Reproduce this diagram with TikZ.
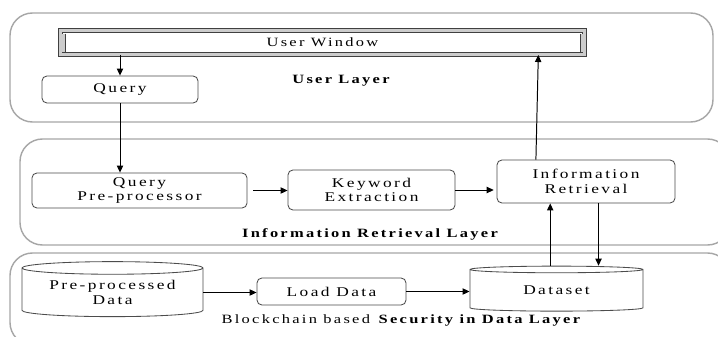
\documentclass[tikz,border=0pt]{standalone}
\usepackage{fontspec}
\setmainfont{Liberation Serif}[FakeStretch=1.3, LetterSpace=18]
\usetikzlibrary{shapes.geometric, arrows.meta, calc}
\tikzset{
  layer/.style={draw=gray!70, line width=1pt, rounded corners=16pt},
  procbox/.style={draw=black!70, line width=0.6pt, rounded corners=3.5pt,
    align=center, inner sep=0pt, font=\fontsize{9.5}{10.5}\selectfont},
  store/.style={cylinder, shape border rotate=90, aspect=0.1,
    draw=black!70, line width=0.6pt, align=center, inner sep=0pt,
    font=\fontsize{9.5}{10.5}\selectfont},
  flow/.style={-{Triangle[length=5pt, width=4.5pt]}, line width=0.7pt},
  layername/.style={font=\fontsize{9}{10}\selectfont\bfseries}
}

\begin{document}
\begin{tikzpicture}[x=0.025cm, y=-0.025cm]
  \clip (0,0) rectangle (718,336);
  \fill[white] (0,0) rectangle (718,336);

  % ── Layers ───────────────────────────────────────────────────────
  \draw[layer] (10,13)  rectangle (713,122);
  \draw[layer] (20,139) rectangle (730,245);
  \draw[layer] (10,253) rectangle (730,345);

  \node[layername] (userlbl) at (341,81) {User Layer};
  \node[layername] (irlbl)   at (370,234) {Information Retrieval Layer};
  \node[font=\fontsize{9}{10}\selectfont] (datalbl) at (402,320)
    {Blockchain based \textbf{Security in Data Layer}};

  % ── User layer ───────────────────────────────────────────────────
  \node[draw=gray!50!black, line width=0.7pt, double=gray!40,
        double distance=2.6pt, fill=white,
        minimum width=13.1cm, minimum height=0.6cm,
        inner sep=0pt, font=\fontsize{9}{10}\selectfont]
        (win) at (322.5,42.5) {User Window};
  \foreach \s/\d in {west/1, east/-1}
    { \fill[gray!40] (win.\s) ++(0,-9) rectangle ++(\d*5,18);
      \draw[gray!50!black, line width=0.6pt]
        ([xshift=\d*5*0.025cm]win.\s) ++(0,-9) -- ++(0,18); }

  \node[procbox, minimum width=3.9cm, minimum height=0.675cm]
        (query) at (120,89.5) {Query};

  % ── Information retrieval layer ──────────────────────────────────
  \node[procbox, minimum width=5.375cm, minimum height=0.875cm]
        (prep) at (139.5,190.5) {Query\\Pre-processor};
  \node[procbox, minimum width=4.175cm, minimum height=1cm]
        (kw) at (371.5,190) {Keyword\\Extraction};
  \node[procbox, minimum width=4.45cm, minimum height=1.075cm]
        (ir) at (586,181.5) {Information\\Retrieval};

  % ── Data layer ───────────────────────────────────────────────────
  \node[store, minimum width=4.525cm, minimum height=1.375cm]
        (ppd) at (112.5,292.5) {Pre-processed\\Data};
  \node[procbox, minimum width=3.725cm, minimum height=0.675cm]
        (load) at (331.5,291.5) {Load Data};
  \node[store, minimum width=4.325cm, minimum height=1.125cm]
        (ds) at (556.5,290.5) {Dataset};

  % ── Connectors ───────────────────────────────────────────────────
  \coordinate (winout) at ($(win.south west)!0.911!(win.south east)$);
  \coordinate (irout)  at ($(ir.north west)!0.22!(ir.north east)$);
  \coordinate (irup)   at ($(ir.south west)!0.30!(ir.south east)$);
  \coordinate (irdown) at ($(ir.south west)!0.57!(ir.south east)$);

  \draw[flow] (query |- win.south) -- (query.north);
  \draw[flow] (query.south) -- (query.south |- prep.north);
  \draw[flow, shorten <=4pt] (prep.east) -- (kw.west |- prep.east);
  \draw[flow, shorten >=2pt] (kw.east) -- (ir.west |- kw.east);
  \draw[flow] (irout) -- (winout);
  \draw[flow] (irup |- ds.north) -- (irup);
  \draw[flow] (irdown) -- (irdown |- ds.north);
  \draw[flow] (ppd.east) -- (load.west |- ppd.east);
  \draw[flow] (load.east) -- (ds.west |- load.east);
\end{tikzpicture}
\end{document}
